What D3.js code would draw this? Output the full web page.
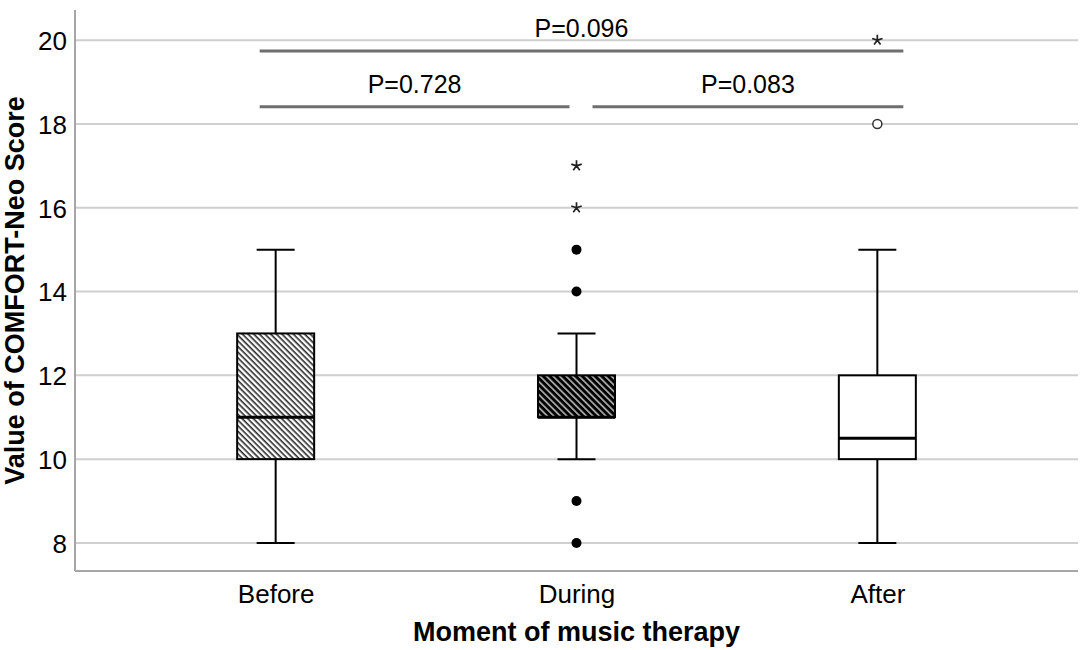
<!DOCTYPE html>
<html lang="en">
<head>
    <meta charset="UTF-8">
    <title>COMFORT-Neo Score by moment of music therapy</title>
    <script src="https://d3js.org/d3.v7.min.js"></script>
    <style>
        body { margin: 0; background: #fff; }
        text { font-family: "Liberation Sans", Arial, sans-serif; fill: #000; }
        .tick-label { font-size: 26px; }
        .axis-title { font-size: 27px; font-weight: bold; }
        .p-label { font-size: 25px; }
    </style>
</head>
<body>
    <svg id="chart"></svg>

    <script>
        // Box plot summaries, one entry per category
        const categories = ["Before", "During", "After"];
        const whiskerLow = [8, 10, 8];
        const q1 = [10, 11, 10];
        const median = [11, 11, 10.5];
        const q3 = [13, 12, 12];
        const whiskerHigh = [15, 13, 15];

        // Points outside the whiskers
        const filledOutlierCat = ["During", "During", "During", "During"];
        const filledOutlierVal = [15, 14, 9, 8];
        const openOutlierCat = ["After"];
        const openOutlierVal = [18];
        const extremeCat = ["During", "During", "After"];
        const extremeVal = [17, 16, 20];

        // Pairwise comparisons
        const compFrom = ["Before", "During", "Before"];
        const compTo = ["During", "After", "After"];
        const compLabel = ["P=0.728", "P=0.083", "P=0.096"];
        const compTier = [0, 0, 1];

        const yTicks = [8, 10, 12, 14, 16, 18, 20];

        const width = 1084;
        const height = 650;
        const plotLeft = 75, plotRight = 1078, plotTop = 10, plotBottom = 571;

        const svg = d3.select("#chart")
            .attr("width", width)
            .attr("height", height);

        const x = d3.scalePoint()
            .domain(categories)
            .range([plotLeft, plotRight])
            .padding(0.667);

        const y = d3.scaleLinear()
            .domain([7.33, 20.72])
            .range([plotBottom, plotTop]);

        // hatch patterns for the first two boxes
        const defs = svg.append("defs");
        defs.append("pattern")
            .attr("id", "hatch-light")
            .attr("patternUnits", "userSpaceOnUse")
            .attr("width", 4).attr("height", 4)
            .attr("patternTransform", "rotate(45)")
            .call(p => {
                p.append("rect").attr("width", 4).attr("height", 4).attr("fill", "#fff");
                p.append("rect").attr("width", 4).attr("height", 1.6).attr("fill", "#2a2a2a");
            });
        defs.append("pattern")
            .attr("id", "hatch-dark")
            .attr("patternUnits", "userSpaceOnUse")
            .attr("width", 4.6).attr("height", 4.6)
            .attr("patternTransform", "rotate(45)")
            .call(p => {
                p.append("rect").attr("width", 4.6).attr("height", 4.6).attr("fill", "#b8b8b8");
                p.append("rect").attr("width", 4.6).attr("height", 3).attr("fill", "#000");
            });
        const fills = ["url(#hatch-light)", "url(#hatch-dark)", "#fff"];

        // gridlines
        svg.append("g")
            .selectAll("line")
            .data(yTicks)
            .enter()
            .append("line")
            .attr("x1", plotLeft).attr("x2", plotRight)
            .attr("y1", d => y(d)).attr("y2", d => y(d))
            .attr("stroke", "#cfcfcf")
            .attr("stroke-width", 2);

        // y axis
        const yAxis = svg.append("g")
            .attr("transform", `translate(${plotLeft},0)`)
            .call(d3.axisLeft(y).tickValues(yTicks).tickSize(0).tickPadding(8));
        yAxis.select(".domain").remove();
        yAxis.selectAll("text")
            .attr("class", "tick-label")
            .attr("font-family", null)
            .attr("font-size", null)
            .attr("dy", "0.36em");

        svg.append("line")
            .attr("x1", plotLeft).attr("x2", plotLeft)
            .attr("y1", plotTop).attr("y2", plotBottom)
            .attr("stroke", "#a6a6a6").attr("stroke-width", 2);

        // x axis
        const xAxis = svg.append("g")
            .attr("transform", `translate(0,${plotBottom})`)
            .call(d3.axisBottom(x).tickSize(0).tickPadding(12));
        xAxis.select(".domain").remove();
        xAxis.selectAll("text")
            .attr("class", "tick-label")
            .attr("font-family", null)
            .attr("font-size", null)
            .attr("dy", "0.75em");

        svg.append("line")
            .attr("x1", plotLeft).attr("x2", plotRight)
            .attr("y1", plotBottom).attr("y2", plotBottom)
            .attr("stroke", "#a6a6a6").attr("stroke-width", 2);

        // axis titles
        svg.append("text")
            .attr("class", "axis-title")
            .attr("text-anchor", "middle")
            .attr("x", (plotLeft + plotRight) / 2)
            .attr("y", 641)
            .text("Moment of music therapy");

        svg.append("text")
            .attr("class", "axis-title")
            .attr("text-anchor", "middle")
            .attr("transform", `translate(24,${(plotTop + plotBottom) / 2}) rotate(-90)`)
            .text("Value of COMFORT-Neo Score");

        // boxes
        const boxW = 77, capW = 38;
        const boxes = svg.append("g")
            .selectAll("g")
            .data(categories)
            .enter()
            .append("g");

        boxes.append("line")
            .attr("x1", d => x(d)).attr("x2", d => x(d))
            .attr("y1", (d, i) => y(whiskerLow[i])).attr("y2", (d, i) => y(whiskerHigh[i]))
            .attr("stroke", "#000").attr("stroke-width", 2);

        boxes.selectAll(".cap")
            .data((d, i) => [{ c: d, v: whiskerLow[i] }, { c: d, v: whiskerHigh[i] }])
            .enter()
            .append("line")
            .attr("class", "cap")
            .attr("x1", d => x(d.c) - capW / 2).attr("x2", d => x(d.c) + capW / 2)
            .attr("y1", d => y(d.v)).attr("y2", d => y(d.v))
            .attr("stroke", "#000").attr("stroke-width", 2);

        boxes.append("rect")
            .attr("x", d => x(d) - boxW / 2)
            .attr("width", boxW)
            .attr("y", (d, i) => y(q3[i]))
            .attr("height", (d, i) => y(q1[i]) - y(q3[i]))
            .attr("fill", (d, i) => fills[i])
            .attr("stroke", "#000").attr("stroke-width", 2);

        boxes.append("line")
            .attr("x1", d => x(d) - boxW / 2).attr("x2", d => x(d) + boxW / 2)
            .attr("y1", (d, i) => y(median[i])).attr("y2", (d, i) => y(median[i]))
            .attr("stroke", "#000").attr("stroke-width", 3);

        // outliers
        svg.append("g")
            .selectAll("circle")
            .data(filledOutlierVal)
            .enter()
            .append("circle")
            .attr("cx", (d, i) => x(filledOutlierCat[i]))
            .attr("cy", d => y(d))
            .attr("r", 5)
            .attr("fill", "#000");

        svg.append("g")
            .selectAll("circle")
            .data(openOutlierVal)
            .enter()
            .append("circle")
            .attr("cx", (d, i) => x(openOutlierCat[i]))
            .attr("cy", d => y(d))
            .attr("r", 4.5)
            .attr("fill", "#fff")
            .attr("stroke", "#333")
            .attr("stroke-width", 1.5);

        // five-armed asterisk for extreme values
        const starArm = 5.5;
        const starPath = d3.range(5).map(k => {
            const a = -Math.PI / 2 + k * 2 * Math.PI / 5;
            return `M0,0L${starArm * Math.cos(a)},${starArm * Math.sin(a)}`;
        }).join("");

        svg.append("g")
            .selectAll("path")
            .data(extremeVal)
            .enter()
            .append("path")
            .attr("transform", (d, i) => `translate(${x(extremeCat[i])},${y(d)})`)
            .attr("d", starPath)
            .attr("stroke", "#222")
            .attr("stroke-width", 1.7)
            .attr("fill", "none");

        // significance bars
        const tierY = [18.41, 19.74];
        const startPad = -16, endPad = { During: -7, After: 26 };
        const startOf = i => x(compFrom[i]) + (compFrom[i] === "Before" ? startPad : -startPad);
        const endOf = i => x(compTo[i]) + endPad[compTo[i]];

        const comps = svg.append("g")
            .selectAll("g")
            .data(compLabel)
            .enter()
            .append("g");

        comps.append("line")
            .attr("x1", (d, i) => startOf(i))
            .attr("x2", (d, i) => endOf(i))
            .attr("y1", (d, i) => y(tierY[compTier[i]]))
            .attr("y2", (d, i) => y(tierY[compTier[i]]))
            .attr("stroke", "#6e6e6e")
            .attr("stroke-width", 3);

        comps.append("text")
            .attr("class", "p-label")
            .attr("text-anchor", "middle")
            .attr("x", (d, i) => (startOf(i) + endOf(i)) / 2)
            .attr("y", (d, i) => y(tierY[compTier[i]]) - 14)
            .text(d => d);
    </script>
</body>
</html>
